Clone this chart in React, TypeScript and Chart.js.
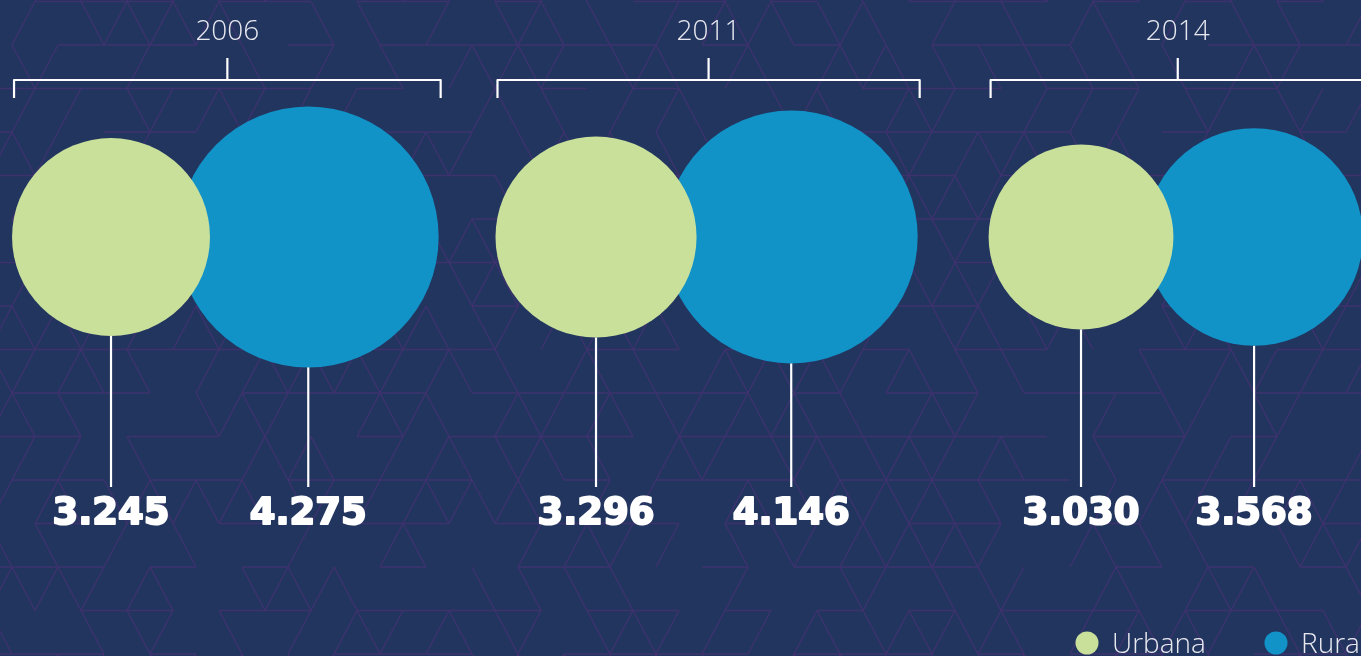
import React, { useEffect, useRef } from 'react';
import { Chart, registerables } from 'chart.js';

Chart.register(...registerables);

const years = ['2006', '2011', '2014'];
const urbana = [3245, 3296, 3030];
const rural = [4275, 4146, 3568];
const seriesLabels = ['Urbana', 'Rural'];
const seriesColors = ['#c9e09b', '#1293c8'];

const W = 1361;
const H = 656;
const RADIUS_PER_UNIT = 0.0305; // px of radius per household value
const PX_PER_GROUP = 485;
const X_MIN = -0.2289;

const fmt = (v: number) => {
  const th = Math.floor(v / 1000);
  const rest = String(v % 1000).padStart(3, '0');
  return th > 0 ? `${th}.${rest}` : String(v);
};

const hash = (a: number, b: number, c: number) => {
  let h = (a * 73856093) ^ (b * 19349663) ^ (c * 83492791);
  h = (h ^ (h >>> 13)) * 1274126177;
  h = h ^ (h >>> 16);
  return ((h >>> 0) % 1000) / 1000;
};

const backgroundPlugin = {
  id: 'bgPattern',
  beforeDraw(chart: any) {
    const { ctx, width, height } = chart;
    ctx.save();
    ctx.fillStyle = '#22355f';
    ctx.fillRect(0, 0, width, height);
    ctx.strokeStyle = 'rgba(64, 50, 112, 0.9)';
    ctx.lineWidth = 1.4;
    const rowH = 43.5;
    const colW = 46;
    const y0 = 1.5;
    for (let k = -1; k < height / rowH + 2; k++) {
      const y = y0 + k * rowH;
      const off = (((35 + 23 * k) % colW) + colW) % colW;
      for (let j = -2; j < width / colW + 2; j++) {
        const x = off + j * colW;
        ctx.beginPath();
        if (hash(k + 50, j + 50, 1) < 0.6) {
          ctx.moveTo(x, y);
          ctx.lineTo(x + colW, y);
        }
        if (hash(k + 50, j + 50, 2) < 0.6) {
          ctx.moveTo(x, y);
          ctx.lineTo(x - colW / 2, y + rowH);
        }
        if (hash(k + 50, j + 50, 3) < 0.6) {
          ctx.moveTo(x, y);
          ctx.lineTo(x + colW / 2, y + rowH);
        }
        ctx.stroke();
      }
    }
    ctx.restore();
  },
};

const annotationPlugin = {
  id: 'annotations',
  afterDatasetsDraw(chart: any) {
    const { ctx } = chart;
    const metaU = chart.getDatasetMeta(0);
    const metaR = chart.getDatasetMeta(1);
    ctx.save();
    [metaU, metaR].forEach((meta: any, di: number) => {
      const values = di === 0 ? urbana : rural;
      meta.data.forEach((el: any, i: number) => {
        const r = el.options.radius;
        ctx.strokeStyle = '#ffffff';
        ctx.fillStyle = '#ffffff';
        ctx.lineWidth = 2.2;
        ctx.beginPath();
        ctx.moveTo(el.x, el.y + r);
        ctx.lineTo(el.x, 487);
        ctx.stroke();
        ctx.font = 'bold 37px "DejaVu Sans"';
        ctx.textAlign = 'center';
        ctx.textBaseline = 'alphabetic';
        ctx.lineWidth = 2;
        ctx.lineJoin = 'round';
        ctx.strokeText(fmt(values[i]), el.x, 524);
        ctx.fillText(fmt(values[i]), el.x, 524);
      });
    });
    // brackets and years
    years.forEach((yr, i) => {
      const u = metaU.data[i];
      const rr = metaR.data[i];
      const left = u.x - u.options.radius + 2;
      const right = rr.x + rr.options.radius + 2;
      const cx = (left + right) / 2;
      ctx.strokeStyle = '#ffffff';
      ctx.lineWidth = 2.2;
      ctx.beginPath();
      ctx.moveTo(left, 98);
      ctx.lineTo(left, 80);
      ctx.lineTo(right, 80);
      ctx.lineTo(right, 98);
      ctx.moveTo(cx, 80);
      ctx.lineTo(cx, 58);
      ctx.stroke();
      ctx.fillStyle = '#e8e9f0';
      ctx.font = '300 28px "Open Sans"';
      ctx.textAlign = 'center';
      ctx.textBaseline = 'alphabetic';
      ctx.fillText(yr, cx, 40);
    });
    // legend
    const legendX = [1087, 1276];
    seriesLabels.forEach((lab, i) => {
      ctx.fillStyle = seriesColors[i];
      ctx.beginPath();
      ctx.arc(legendX[i], 643, 11.5, 0, Math.PI * 2);
      ctx.fill();
      ctx.fillStyle = '#e8e9f0';
      ctx.font = '300 28px "Open Sans"';
      ctx.textAlign = 'left';
      ctx.textBaseline = 'alphabetic';
      ctx.fillText(lab, legendX[i] + 25, 653);
    });
    ctx.restore();
  },
};

export default function App() {
  const ref = useRef<HTMLCanvasElement | null>(null);
  useEffect(() => {
    if (!ref.current) return;
    const rU = urbana.map((v) => v * RADIUS_PER_UNIT);
    const rR = rural.map((v) => v * RADIUS_PER_UNIT);
    const chart = new Chart(ref.current, {
      type: 'bubble',
      data: {
        datasets: [
          {
            label: seriesLabels[0],
            data: urbana.map((v, i) => ({ x: i, y: 0, r: rU[i] })),
            backgroundColor: seriesColors[0],
            borderWidth: 0,
            clip: false as any,
          },
          {
            label: seriesLabels[1],
            data: rural.map((v, i) => ({
              x: i + ((rU[i] + rR[i]) * 0.86) / PX_PER_GROUP,
              y: 0,
              r: rR[i],
            })),
            backgroundColor: seriesColors[1],
            borderWidth: 0,
            clip: false as any,
          },
        ],
      },
      options: {
        animation: false,
        responsive: false,
        events: [],
        layout: { autoPadding: false, padding: { left: 0, right: 0, top: 0, bottom: 182 } } as any,
        scales: {
          x: { type: 'linear', display: false, min: X_MIN, max: X_MIN + W / PX_PER_GROUP },
          y: { type: 'linear', display: false, min: -1, max: 1 },
        },
        plugins: {
          legend: { display: false },
          tooltip: { enabled: false },
        },
      },
      plugins: [backgroundPlugin, annotationPlugin],
    });
    return () => chart.destroy();
  }, []);
  return (
    <div style={{ position: 'absolute', left: 0, top: 0, width: W, height: H, overflow: 'hidden' }}>
      <canvas ref={ref} width={W} height={H} style={{ display: 'block', width: W, height: H }} />
    </div>
  );
}
